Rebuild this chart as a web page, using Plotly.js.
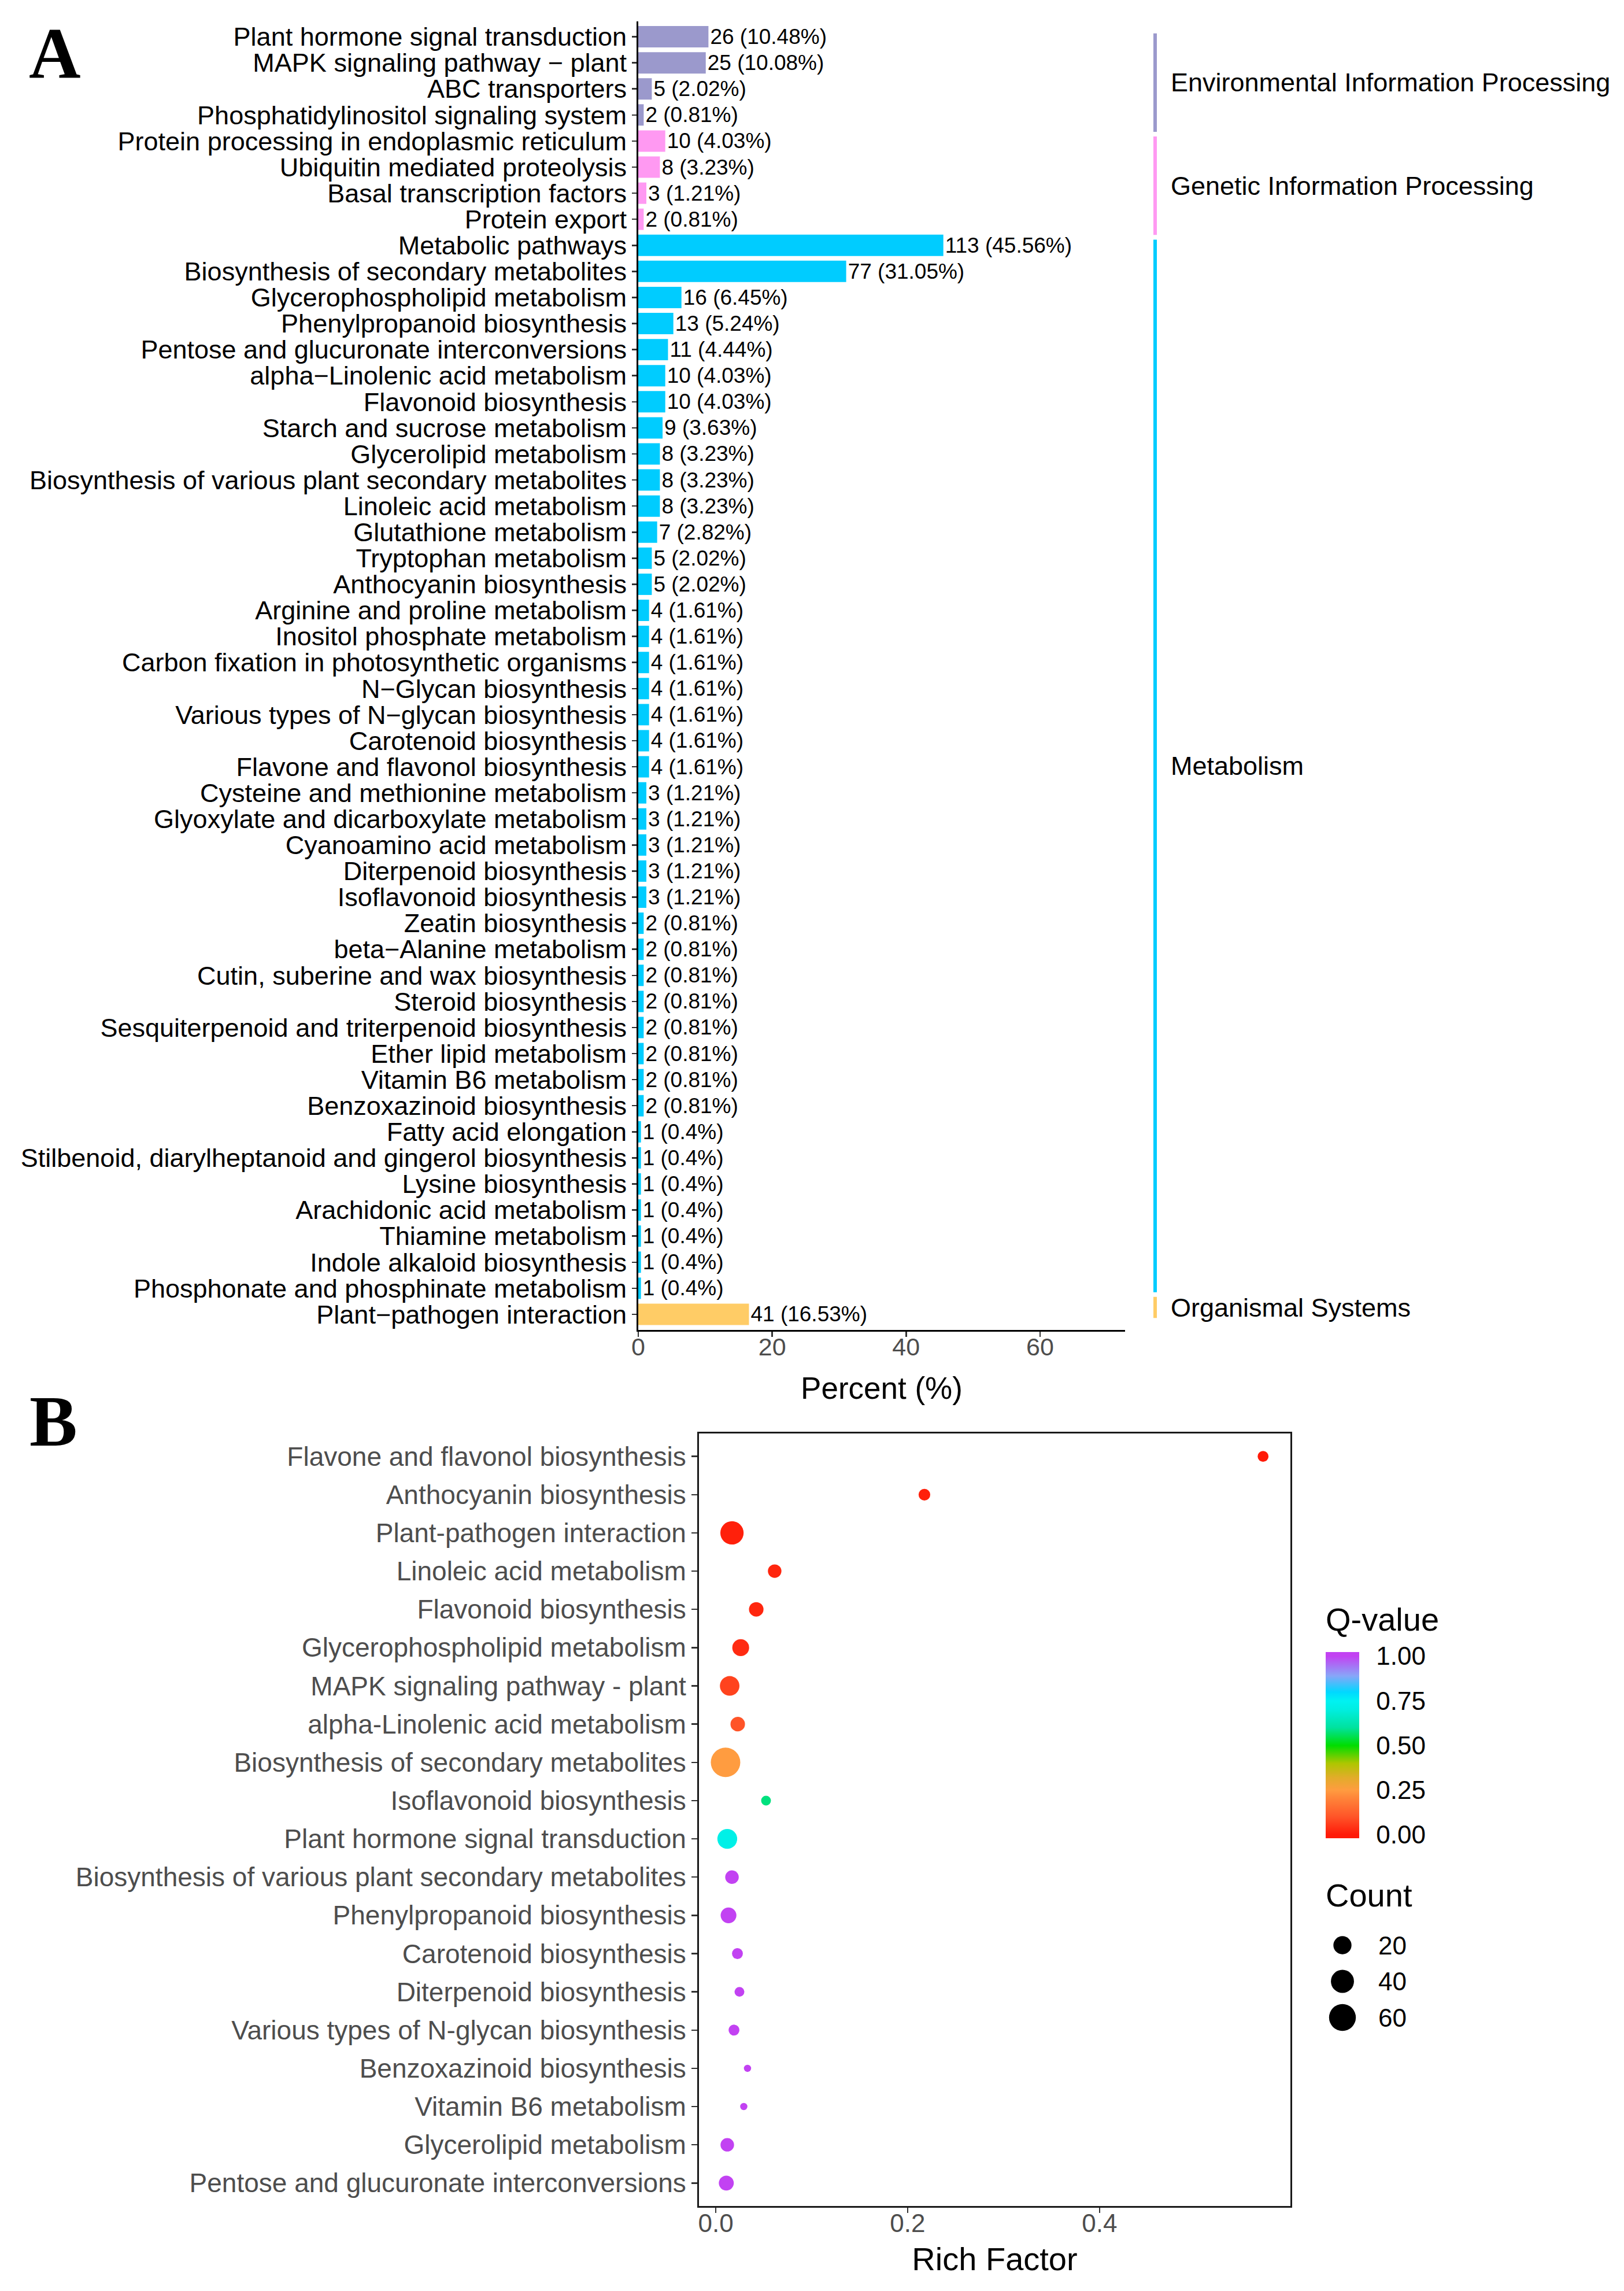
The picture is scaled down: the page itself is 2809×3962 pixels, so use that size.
<!DOCTYPE html>
<html><head><meta charset="utf-8">
<script src="https://cdn.plot.ly/plotly-3.0.1.min.js"></script>
<style>html,body{margin:0;padding:0;background:#fff}#chart{width:2809px;height:3962px}</style>
</head><body><div id="chart"></div>
<script>
// ---------- Panel A data ----------
const pathways = [
  "Plant hormone signal transduction","MAPK signaling pathway − plant","ABC transporters","Phosphatidylinositol signaling system",
  "Protein processing in endoplasmic reticulum","Ubiquitin mediated proteolysis","Basal transcription factors","Protein export",
  "Metabolic pathways","Biosynthesis of secondary metabolites","Glycerophospholipid metabolism","Phenylpropanoid biosynthesis",
  "Pentose and glucuronate interconversions","alpha−Linolenic acid metabolism","Flavonoid biosynthesis","Starch and sucrose metabolism",
  "Glycerolipid metabolism","Biosynthesis of various plant secondary metabolites","Linoleic acid metabolism","Glutathione metabolism",
  "Tryptophan metabolism","Anthocyanin biosynthesis","Arginine and proline metabolism","Inositol phosphate metabolism",
  "Carbon fixation in photosynthetic organisms","N−Glycan biosynthesis","Various types of N−glycan biosynthesis","Carotenoid biosynthesis",
  "Flavone and flavonol biosynthesis","Cysteine and methionine metabolism","Glyoxylate and dicarboxylate metabolism","Cyanoamino acid metabolism",
  "Diterpenoid biosynthesis","Isoflavonoid biosynthesis","Zeatin biosynthesis","beta−Alanine metabolism",
  "Cutin, suberine and wax biosynthesis","Steroid biosynthesis","Sesquiterpenoid and triterpenoid biosynthesis","Ether lipid metabolism",
  "Vitamin B6 metabolism","Benzoxazinoid biosynthesis","Fatty acid elongation","Stilbenoid, diarylheptanoid and gingerol biosynthesis",
  "Lysine biosynthesis","Arachidonic acid metabolism","Thiamine metabolism","Indole alkaloid biosynthesis",
  "Phosphonate and phosphinate metabolism","Plant−pathogen interaction"
];
const geneCounts = [26,25,5,2, 10,8,3,2, 113,77,16,13,11,10,10,9,8,8,8,7,5,5,4,4,4,4,4,4,4,3,3,3,3,3,2,2,2,2,2,2,2,2,1,1,1,1,1,1,1, 41];
const genePercents = [10.48,10.08,2.02,0.81, 4.03,3.23,1.21,0.81, 45.56,31.05,6.45,5.24,4.44,4.03,4.03,3.63,3.23,3.23,3.23,2.82,2.02,2.02,
  1.61,1.61,1.61,1.61,1.61,1.61,1.61,1.21,1.21,1.21,1.21,1.21,0.81,0.81,0.81,0.81,0.81,0.81,0.81,0.81,0.4,0.4,0.4,0.4,0.4,0.4,0.4, 16.53];
const groupNames = ["Environmental Information Processing","Genetic Information Processing","Metabolism","Organismal Systems"];
const groupSizes = [4,4,41,1];
const groupColors = ["#9B99CC","#FF99F2","#00CCFF","#FFCC66"];
const percentTicks = [0,20,40,60];

// ---------- Panel B data ----------
const enrichTerms = [
  "Flavone and flavonol biosynthesis","Anthocyanin biosynthesis","Plant-pathogen interaction","Linoleic acid metabolism",
  "Flavonoid biosynthesis","Glycerophospholipid metabolism","MAPK signaling pathway - plant","alpha-Linolenic acid metabolism",
  "Biosynthesis of secondary metabolites","Isoflavonoid biosynthesis","Plant hormone signal transduction","Biosynthesis of various plant secondary metabolites",
  "Phenylpropanoid biosynthesis","Carotenoid biosynthesis","Diterpenoid biosynthesis","Various types of N-glycan biosynthesis",
  "Benzoxazinoid biosynthesis","Vitamin B6 metabolism","Glycerolipid metabolism","Pentose and glucuronate interconversions"
];
const richFactor = [0.5705,0.2175,0.0169,0.0614,0.0422,0.026,0.0145,0.0229,0.0102,0.0524,0.012,0.0169,0.0133,0.0226,0.0247,0.019,0.0331,0.0292,0.012,0.011];
const qValue = [0.0,0.01,0.01,0.02,0.02,0.03,0.07,0.1,0.25,0.58,0.72,1.0,1.0,1.0,1.0,1.0,1.0,1.0,1.0,1.0];
const enrichCounts = [4,5,41,8,10,16,25,10,77,3,26,8,13,4,3,4,2,2,8,11];
const richTicks = [0,0.2,0.4];
const richTickText = ["0.0","0.2","0.4"];
const qTicks = [0,0.25,0.5,0.75,1];
const qTickText = ["0.00","0.25","0.50","0.75","1.00"];
const countLegend = [20,40,60];

// ---------- helpers ----------
const W = 2809, H = 3962;
const px = v => v / W;
const py = v => 1 - v / H;
const SANS = "Liberation Sans, Arial, Helvetica, sans-serif";
const SERIF = "Liberation Serif, Times New Roman, serif";

const rowColors = [];
groupSizes.forEach((n, i) => { for (let k = 0; k < n; k++) rowColors.push(groupColors[i]); });
const valueLabels = geneCounts.map((c, i) => c + " (" + genePercents[i] + "%)");

const cMin = Math.min(...enrichCounts), cMax = Math.max(...enrichCounts);
const dotSize = c => 12.5 + 38.5 * Math.sqrt(Math.max(0, c - cMin) / (cMax - cMin));

// colour ramp defined in Q-value units, bar limits slightly beyond 0..1 as in the original legend
const qLo = -0.0195, qHi = 1.0237;
const qStops = [[0,"#FF1A08"],[0.1,"#FF5428"],[0.2,"#FF8238"],[0.25,"#FF9C40"],[0.32,"#E2AC2A"],[0.4,"#AEC600"],
  [0.5,"#00DD00"],[0.6,"#00E29E"],[0.7,"#00EEE0"],[0.75,"#00F2F2"],[0.8,"#00D8FF"],[0.89,"#88A6F8"],[1,"#C242F2"]];
const norm = q => (q - qLo) / (qHi - qLo);
const qScale = [[0, qStops[0][1]]].concat(qStops.map(s => [norm(s[0]), s[1]])).concat([[1, qStops[qStops.length-1][1]]]);

const cbTop = 2856.7, cbLen = 321.6, cbLeft = 2292.7, cbThick = 58;

// ---------- traces ----------
const barTrace = {
  type: "bar", orientation: "h", x: genePercents, y: pathways, xaxis: "x", yaxis: "y",
  width: 0.82, marker: {color: rowColors, line: {width: 0}},
  text: valueLabels, textposition: "outside", cliponaxis: false, constraintext: "none",
  outsidetextfont: {family: SANS, size: 37, color: "#000"}, hoverinfo: "none", showlegend: false
};
const dotTrace = {
  type: "scatter", mode: "markers", x: richFactor, y: enrichTerms, xaxis: "x2", yaxis: "y2",
  cliponaxis: false, hoverinfo: "none", showlegend: false,
  marker: {
    size: enrichCounts.map(dotSize), color: qValue, cmin: qLo, cmax: qHi, colorscale: qScale,
    line: {width: 0}, opacity: 1, showscale: true,
    colorbar: {
      x: px(cbLeft), xanchor: "left", xref: "paper", y: py(cbTop), yanchor: "top", yref: "paper",
      len: cbLen, lenmode: "pixels", thickness: cbThick, thicknessmode: "pixels", xpad: 0, ypad: 0,
      outlinewidth: 0, tickmode: "array", tickvals: qTicks, ticktext: qTickText,
      ticks: "outside", ticklen: 21, tickcolor: "rgba(255,255,255,0)",
      tickfont: {family: SANS, size: 44, color: "#000"}, title: {text: ""}
    }
  }
};
const countLegendTrace = {
  type: "scatter", mode: "markers", x: countLegend.map(() => 0.5), y: countLegend.map((v, i) => i),
  xaxis: "x3", yaxis: "y3", hoverinfo: "none", showlegend: false, cliponaxis: false,
  marker: {size: countLegend.map(dotSize), color: "rgb(0,0,0)", opacity: 1, line: {width: 0}}
};

// ---------- group brackets ----------
const shapes = [], annotations = [];
let cum = 0;
groupSizes.forEach((n, i) => {
  const r0 = -0.22 + 0.989 * (cum + 0.09);
  const r1 = -0.22 + 0.989 * (cum + n - 0.09);
  shapes.push({type: "line", xref: "paper", yref: "y", x0: px(1998), x1: px(1998), y0: r0, y1: r1,
    line: {color: groupColors[i], width: 6}});
  annotations.push({xref: "paper", yref: "y", x: px(2023), y: (r0 + r1) / 2, xanchor: "left", yanchor: "middle",
    text: groupNames[i], showarrow: false, font: {family: SANS, size: 45, color: "#000"}});
  cum += n;
});

// white tick marks inside the colour bar
qTicks.forEach(q => {
  const yy = cbTop + (qHi - q) / (qHi - qLo) * cbLen;
  [[cbLeft, cbLeft + 10], [cbLeft + cbThick - 10, cbLeft + cbThick]].forEach(seg => {
    shapes.push({type: "line", xref: "paper", yref: "paper", x0: px(seg[0]), x1: px(seg[1]), y0: py(yy), y1: py(yy),
      line: {color: "#FFFFFF", width: 2}});
  });
});

annotations.push({xref: "paper", yref: "paper", x: px(95), y: py(92), xanchor: "center", yanchor: "middle",
  text: "<b>A</b>", showarrow: false, font: {family: SERIF, size: 124, color: "#000"}});
annotations.push({xref: "paper", yref: "paper", x: px(93), y: py(2458), xanchor: "center", yanchor: "middle",
  text: "<b>B</b>", showarrow: false, font: {family: SERIF, size: 124, color: "#000"}});
annotations.push({xref: "paper", yref: "paper", x: px(2291), y: py(2800), xanchor: "left", yanchor: "middle",
  text: "Q-value", showarrow: false, font: {family: SANS, size: 56, color: "#000"}});
annotations.push({xref: "paper", yref: "paper", x: px(2291), y: py(3277), xanchor: "left", yanchor: "middle",
  text: "Count", showarrow: false, font: {family: SANS, size: 56, color: "#000"}});
countLegend.forEach((v, i) => annotations.push({xref: "paper", yref: "y3", x: px(2382), y: i, xanchor: "left", yanchor: "middle",
  text: String(v), showarrow: false, font: {family: SANS, size: 44, color: "#000"}}));

// ---------- layout ----------
const layout = {
  width: W, height: H, margin: {l: 0, r: 0, t: 0, b: 0}, paper_bgcolor: "#fff", plot_bgcolor: "rgba(0,0,0,0)",
  showlegend: false, font: {family: SANS, color: "#000"},
  xaxis: {
    domain: [px(1104), px(1946)], range: [0, 72.7], anchor: "y", automargin: false,
    showline: true, linecolor: "#000", linewidth: 3, showgrid: false, zeroline: false,
    ticks: "outside", ticklen: 9, tickwidth: 2.5, tickcolor: "#333", tickmode: "array", tickvals: percentTicks,
    ticklabelstandoff: -20,
    tickfont: {family: SANS, size: 43, color: "#4D4D4D"},
    title: {text: "Percent (%)", font: {family: SANS, size: 53, color: "#000"}, standoff: 31}
  },
  yaxis: {
    domain: [py(2300), py(36.5)], type: "category", range: [49.6, -0.6], anchor: "x", automargin: false,
    showline: true, linecolor: "#000", linewidth: 3, showgrid: false, zeroline: false,
    ticks: "outside", ticklen: 8, tickwidth: 2.5, tickcolor: "#333", tickmode: "array", tickvals: pathways, ticktext: pathways,
    tickfont: {family: SANS, size: 45, color: "#000"}
  },
  xaxis2: {
    domain: [px(1209), px(2232)], range: [-0.0175, 0.599], anchor: "y2", automargin: false,
    showline: true, mirror: true, linecolor: "#1a1a1a", linewidth: 3, showgrid: false, zeroline: false,
    ticks: "outside", ticklen: 9, tickwidth: 2.5, tickcolor: "#333", tickmode: "array", tickvals: richTicks, ticktext: richTickText,
    ticklabelstandoff: -20,
    tickfont: {family: SANS, size: 44, color: "#4D4D4D"},
    title: {text: "Rich Factor", font: {family: SANS, size: 56, color: "#000"}, standoff: 20}
  },
  yaxis2: {
    domain: [py(3815), py(2479)], type: "category", range: [19.6, -0.6], anchor: "x2", automargin: false,
    showline: true, mirror: true, linecolor: "#1a1a1a", linewidth: 3, showgrid: false, zeroline: false,
    ticks: "outside", ticklen: 10, tickwidth: 2.5, tickcolor: "#333", tickmode: "array", tickvals: enrichTerms, ticktext: enrichTerms,
    tickfont: {family: SANS, size: 46, color: "#4D4D4D"}
  },
  xaxis3: {domain: [px(2292), px(2352)], range: [0, 1], anchor: "y3", visible: false, fixedrange: true},
  yaxis3: {domain: [py(3520), py(3330)], range: [2.496, -0.544], anchor: "x3", visible: false, fixedrange: true},
  shapes: shapes, annotations: annotations
};

Plotly.newPlot("chart", [barTrace, dotTrace, countLegendTrace], layout, {staticPlot: true, displayModeBar: false});
</script>
</body></html>
